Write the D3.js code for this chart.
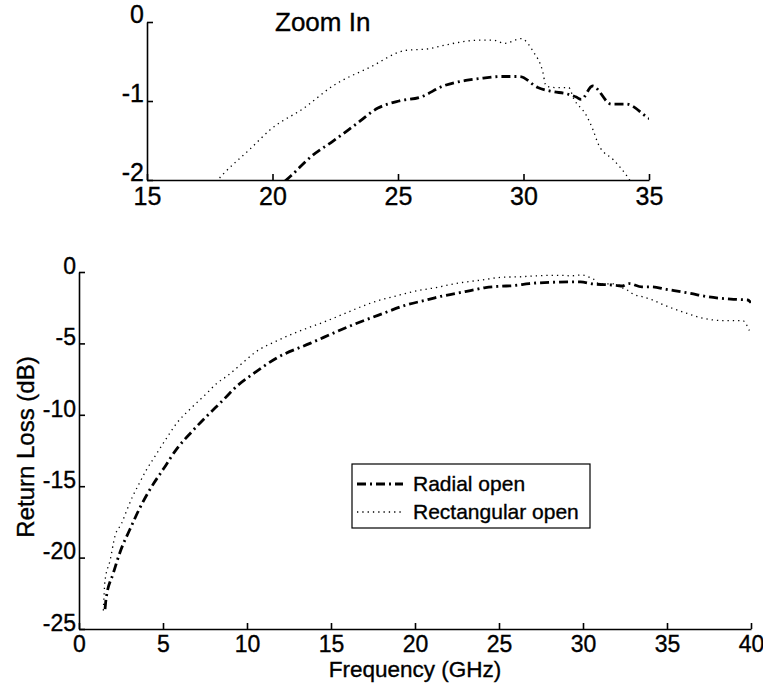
<!DOCTYPE html>
<html>
<head>
<meta charset="utf-8">
<script src="https://cdn.jsdelivr.net/npm/d3@7"></script>
<style>
  body { margin: 0; background: #fff; }
  svg { font-family: "Liberation Sans", Arial, sans-serif; }
  .axis path, .axis line { stroke: #000; stroke-width: 1.6; }
  .axis text, .label { fill: #000; stroke: #000; stroke-width: 0.35; }
</style>
</head>
<body>
<svg id="chart" width="763" height="692"></svg>
<script>
// Frequency (GHz) and return loss (dB)
var radialFreq = [1.55, 1.61, 2.04, 2.48, 3.04, 3.63, 4.29, 5.02, 5.81, 6.7, 7.6, 8.55, 9.39, 10.4, 11.8, 13.75, 16.3, 18.1, 19.5,
  20.76, 21.55, 22.4, 23.3, 24.2, 25.04, 25.9, 26.8, 27.7, 28.4, 29.1, 29.85, 30.57, 31.15, 31.73, 32.1, 32.3,
  32.75, 33.5, 34.1, 34.95, 36.4, 37.4, 38.8, 39.8, 40];
var radialLoss = [-23.6, -22.9, -21.1, -19.5, -18.0, -16.5, -15.1, -13.8, -12.4, -11.2, -10.1, -9.0, -8.0, -7.1, -6.0, -5.0, -3.7, -2.9, -2.3,
  -1.94, -1.7, -1.51, -1.3, -1.09, -1.0, -0.95, -0.81, -0.74, -0.71, -0.69, -0.69, -0.83, -0.88, -0.91, -0.95, -0.98,
  -0.81, -1.04, -1.04, -1.21, -1.5, -1.73, -1.9, -1.96, -2.15];

var rectFreq = [1.45, 1.55, 1.85, 2.14, 2.54, 2.84, 3.2, 3.59, 3.99, 4.42, 5.12, 5.81, 6.7, 7.6, 8.2, 8.8, 9.8, 10.4, 12.0, 14.8, 17.99, 19.1, 19.96,
  21.25, 22.4, 23.9, 25.3, 26.2, 26.9, 28.25, 28.8, 29.26, 29.9, 30.4, 30.76, 30.9, 31.3, 31.8, 32.0, 32.5,
  32.75, 33.0, 33.6, 34.1, 34.8, 36.2, 37.0, 38.3, 39.5, 39.9];
var rectLoss = [-23.7, -21.6, -20.2, -18.5, -17.6, -16.7, -15.7, -14.8, -13.9, -13.1, -11.8, -10.6, -9.5, -8.5, -7.8, -7.3, -6.3, -5.7, -4.7, -3.4, -1.94, -1.61, -1.35,
  -1.09, -0.81, -0.57, -0.36, -0.34, -0.29, -0.23, -0.23, -0.27, -0.21, -0.38, -0.62, -0.81, -0.83, -0.83, -0.97, -1.18,
  -1.35, -1.56, -1.75, -1.94, -2.3, -2.9, -3.2, -3.4, -3.4, -4.1];

var mainXTicks = [0, 5, 10, 15, 20, 25, 30, 35, 40];
var mainYTicks = [0, -5, -10, -15, -20, -25];
var zoomXTicks = [15, 20, 25, 30, 35];
var zoomYTicks = [0, -1, -2];
var seriesNames = ['Radial open', 'Rectangular open'];

var radial = radialFreq.map(function(f, i) { return {f: f, v: radialLoss[i]}; });
var rect = rectFreq.map(function(f, i) { return {f: f, v: rectLoss[i]}; });

var svg = d3.select('#chart');

var styles = [
  {width: 2.8, dash: '9,4,2,4'},
  {width: 1.3, dash: '1.3,4'}
];

function drawPanel(opts) {
  var x = d3.scaleLinear().domain(opts.xDomain).range([opts.left, opts.right]);
  var y = d3.scaleLinear().domain(opts.yDomain).range([opts.bottom, opts.top]);

  var clipId = 'clip-' + opts.name;
  svg.append('clipPath').attr('id', clipId)
    .append('rect')
    .attr('x', opts.left).attr('y', opts.top - 2)
    .attr('width', opts.right - opts.left).attr('height', opts.bottom - opts.top + 2);

  var line = d3.line()
    .x(function(d) { return x(d.f); })
    .y(function(d) { return y(d.v); })
    .curve(d3.curveMonotoneX);

  var g = svg.append('g').attr('clip-path', 'url(#' + clipId + ')');
  [radial, rect].forEach(function(data, i) {
    g.append('path')
      .datum(data)
      .attr('d', line)
      .attr('fill', 'none')
      .attr('stroke', '#000')
      .attr('stroke-width', styles[i].width)
      .attr('stroke-dasharray', styles[i].dash);
  });

  // bottom axis, ticks pointing inward
  var xAxis = svg.append('g')
    .attr('class', 'axis')
    .attr('transform', 'translate(0,' + opts.bottom + ')')
    .call(d3.axisBottom(x).tickValues(opts.xTicks).tickSizeInner(-6).tickSizeOuter(0));
  xAxis.selectAll('text')
    .attr('font-size', opts.fontSize)
    .attr('dy', '0.72em')
    .attr('y', opts.xLabelGap);

  var yAxis = svg.append('g')
    .attr('class', 'axis')
    .attr('transform', 'translate(' + opts.left + ',0)')
    .call(d3.axisLeft(y).tickValues(opts.yTicks).tickSizeInner(-6).tickSizeOuter(0)
      .tickFormat(function(d) { return d < 0 ? '-' + (-d) : d; }));
  yAxis.selectAll('text')
    .attr('font-size', opts.fontSize)
    .attr('x', -3)
    .attr('y', opts.yLabelShift);
  return {x: x, y: y};
}

// inset
drawPanel({
  name: 'zoom', xDomain: [15, 35], yDomain: [-2, 0],
  left: 147, right: 649, top: 22, bottom: 180,
  xTicks: zoomXTicks, yTicks: zoomYTicks, fontSize: 25, xLabelGap: 7, yLabelShift: -8
});

svg.append('text')
  .attr('class', 'label')
  .attr('x', 275).attr('y', 31)
  .attr('font-size', 26)
  .text('Zoom In');

// main chart
drawPanel({
  name: 'main', xDomain: [0, 40], yDomain: [-25, 0],
  left: 79, right: 751, top: 272, bottom: 629,
  xTicks: mainXTicks, yTicks: mainYTicks, fontSize: 23, xLabelGap: 6, yLabelShift: -6
});

svg.append('text')
  .attr('class', 'label')
  .attr('x', 415).attr('y', 677)
  .attr('text-anchor', 'middle')
  .attr('font-size', 22.5)
  .text('Frequency (GHz)');

svg.append('text')
  .attr('class', 'label')
  .attr('transform', 'translate(34,447) rotate(-90)')
  .attr('text-anchor', 'middle')
  .attr('font-size', 24)
  .text('Return Loss (dB)');

// legend
var legend = svg.append('g');
legend.append('rect')
  .attr('x', 352).attr('y', 464)
  .attr('width', 238).attr('height', 64)
  .attr('fill', '#fff')
  .attr('stroke', '#000')
  .attr('stroke-width', 1.2);

seriesNames.forEach(function(name, i) {
  var ly = 484 + i * 28;
  legend.append('line')
    .attr('x1', 357).attr('x2', 403)
    .attr('y1', ly).attr('y2', ly)
    .attr('stroke', '#000')
    .attr('stroke-width', styles[i].width)
    .attr('stroke-dasharray', styles[i].dash);
  legend.append('text')
    .attr('class', 'label')
    .attr('x', 413).attr('y', ly + 7)
    .attr('font-size', 21)
    .text(name);
});
</script>
</body>
</html>
